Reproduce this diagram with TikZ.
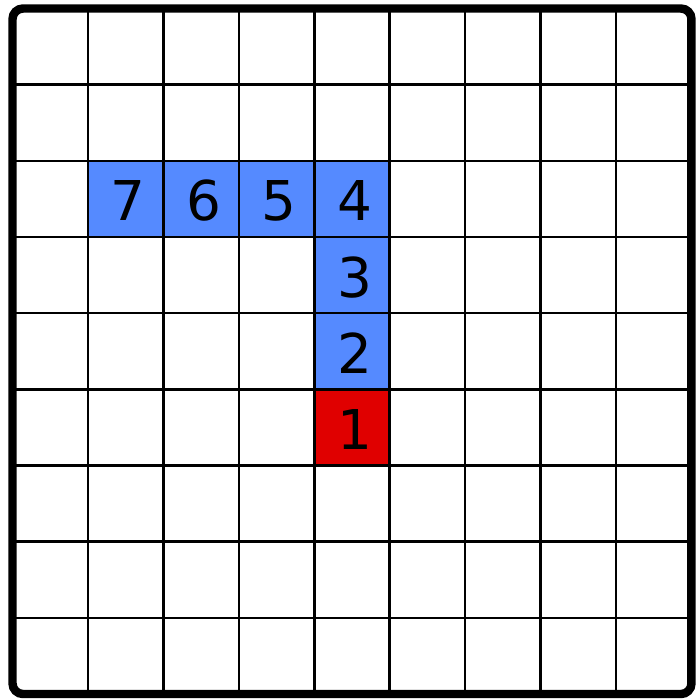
\documentclass[tikz,border=0pt]{standalone}
\usepackage{fontspec}
\setmainfont{DejaVu Sans}
\definecolor{cellblue}{RGB}{85,138,255}
\definecolor{cellred}{RGB}{224,0,0}
\begin{document}
\begin{tikzpicture}[x=0.01cm,y=0.01cm,
  gridline/.style={line width=0.75pt,black},
  frame/.style={line width=2.4pt,black,rounded corners=3pt},
  numtxt/.style={font=\fontsize{15.6}{18}\selectfont,text=black}]
\useasboundingbox (0,0) rectangle (700,700);
\fill[white] (0,0) rectangle (700,700);
\def\xa{12.5}\def\cw{75.44}
\def\ya{691.5}\def\ch{76.17}
% cells: col,row,color,label
\foreach \c/\r/\col/\lab in {4/2/cellblue/4,3/2/cellblue/5,2/2/cellblue/6,1/2/cellblue/7,4/3/cellblue/3,4/4/cellblue/2,4/5/cellred/1}{
  \fill[\col] ({\xa+\c*\cw},{\ya-\r*\ch}) rectangle ({\xa+(\c+1)*\cw},{\ya-(\r+1)*\ch});
  \node[numtxt] (n\lab) at ({\xa+(\c+0.5)*\cw+2.5},{\ya-(\r+0.5)*\ch-2}) {\lab};
}
\foreach \i in {1,...,8}{
  \draw[gridline] ({\xa+\i*\cw},{\ya}) -- ({\xa+\i*\cw},{\ya-9*\ch});
  \draw[gridline] ({\xa},{\ya-\i*\ch}) -- ({\xa+9*\cw},{\ya-\i*\ch});
}
\draw[frame] (\xa,\ya) rectangle ({\xa+9*\cw},{\ya-9*\ch});
\end{tikzpicture}
\end{document}
